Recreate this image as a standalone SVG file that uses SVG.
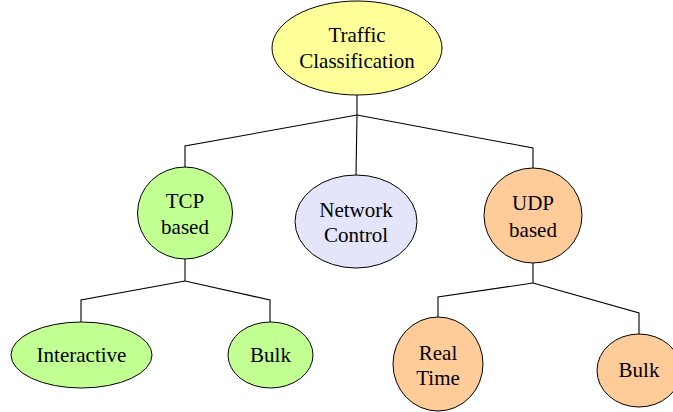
<svg xmlns="http://www.w3.org/2000/svg" width="673" height="412" viewBox="0 0 673 412">
<style>
.n{stroke:#000;stroke-width:1}
.c{fill:none;stroke:#000;stroke-width:1.1}
text{font-size:21px;fill:#000;text-anchor:middle}
.y{fill:#ffff99}.g{fill:#c2ff92}.l{fill:#e4e4fa}.o{fill:#ffcc99}
</style>
<rect width="673" height="412" fill="#fff"/>
<g id="connectors">
<polyline class="c" points="357,95 357,115"/>
<polyline class="c" points="357,115 185,146 185,167"/>
<polyline class="c" points="357,115 356,175"/>
<polyline class="c" points="357,115 533,148 533,168"/>
<polyline class="c" points="185,259 185,281"/>
<polyline class="c" points="185,281 81,300 81,322"/>
<polyline class="c" points="185,281 270,300 270,322"/>
<polyline class="c" points="533,263 533,283"/>
<polyline class="c" points="533,283 438,297 438,317"/>
<polyline class="c" points="533,283 639,313 639,334"/>
</g>
<g font-family="Liberation Serif, Times New Roman, DejaVu Serif, serif">
<g id="root"><ellipse class="n y" cx="357" cy="48" rx="85" ry="47"/><text x="357" y="42">Traffic</text><text x="357" y="68">Classification</text></g>
<g id="tcp"><ellipse class="n g" cx="185" cy="213" rx="47.5" ry="46"/><text x="185" y="208">TCP</text><text x="185" y="234">based</text></g>
<g id="netctl"><ellipse class="n l" cx="356" cy="221.5" rx="61" ry="46.5"/><text x="356" y="217">Network</text><text x="356" y="242">Control</text></g>
<g id="udp"><ellipse class="n o" cx="533" cy="215.5" rx="49" ry="47.5"/><text x="533" y="210">UDP</text><text x="533" y="237">based</text></g>
<g id="interactive"><ellipse class="n g" cx="81.5" cy="355" rx="70.5" ry="33"/><text x="81.5" y="362">Interactive</text></g>
<g id="tcpbulk"><ellipse class="n g" cx="270.5" cy="355" rx="42.5" ry="33"/><text x="270.5" y="362">Bulk</text></g>
<g id="realtime"><ellipse class="n o" cx="438" cy="364" rx="45" ry="47"/><text x="438" y="360">Real</text><text x="438" y="385">Time</text></g>
<g id="udpbulk"><ellipse class="n o" cx="639" cy="370.5" rx="42" ry="36.5"/><text x="639" y="377">Bulk</text></g>
</g>
</svg>
